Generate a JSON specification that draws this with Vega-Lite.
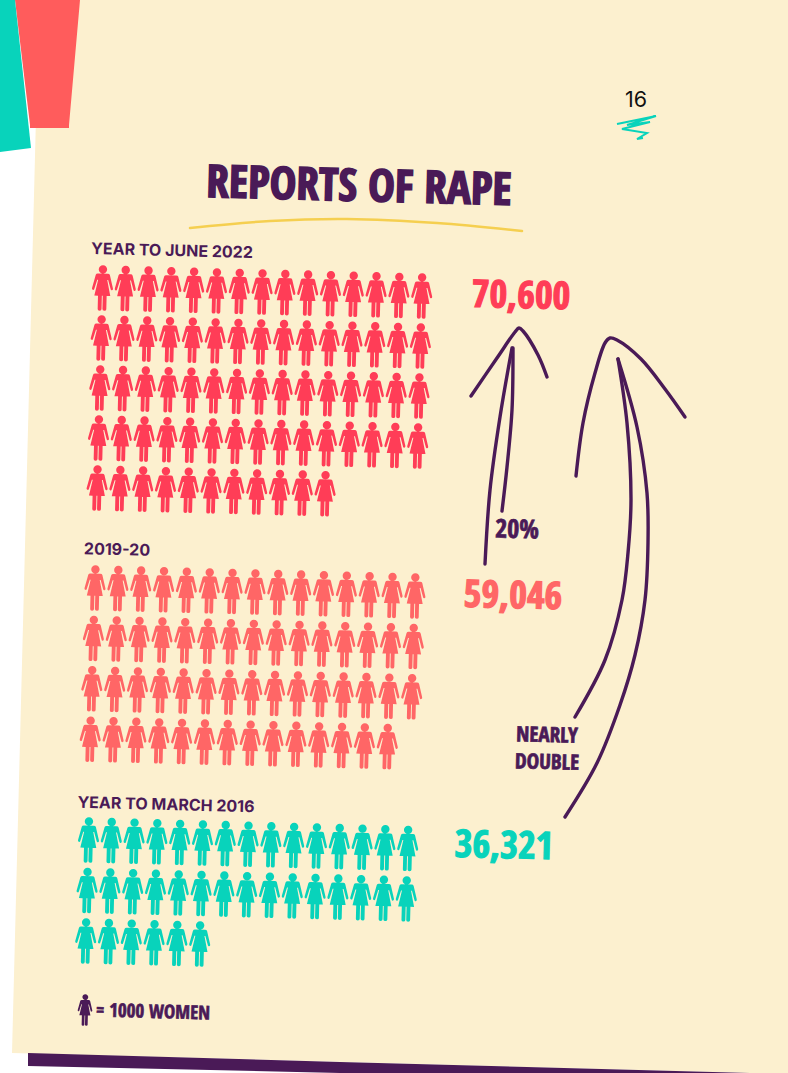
{
"$schema":"https://vega.github.io/schema/vega-lite/v6.json",
"width":788,"height":1073,"padding":0,
"autosize":{"type":"fit","contains":"padding"},
"background":"#ffffff",
"config":{"view":{"stroke":null}},
"datasets":{
"women":[
{"s":"2022","x":102.5,"y":288},{"s":"2022","x":125.3,"y":288.6},{"s":"2022","x":148.1,"y":289.1},{"s":"2022","x":170.9,"y":289.7},{"s":"2022","x":193.7,"y":290.3},{"s":"2022","x":216.5,"y":290.9},{"s":"2022","x":239.3,"y":291.4},{"s":"2022","x":262.1,"y":292},{"s":"2022","x":284.9,"y":292.6},{"s":"2022","x":307.7,"y":293.1},{"s":"2022","x":330.5,"y":293.7},{"s":"2022","x":353.3,"y":294.3},{"s":"2022","x":376.1,"y":294.8},{"s":"2022","x":398.9,"y":295.4},{"s":"2022","x":421.7,"y":296},
{"s":"2022","x":101.2,"y":338},{"s":"2022","x":124,"y":338.6},{"s":"2022","x":146.8,"y":339.1},{"s":"2022","x":169.6,"y":339.7},{"s":"2022","x":192.4,"y":340.3},{"s":"2022","x":215.2,"y":340.9},{"s":"2022","x":238,"y":341.4},{"s":"2022","x":260.8,"y":342},{"s":"2022","x":283.6,"y":342.6},{"s":"2022","x":306.4,"y":343.1},{"s":"2022","x":329.2,"y":343.7},{"s":"2022","x":352,"y":344.3},{"s":"2022","x":374.8,"y":344.8},{"s":"2022","x":397.6,"y":345.4},{"s":"2022","x":420.4,"y":346},
{"s":"2022","x":99.8,"y":388},{"s":"2022","x":122.6,"y":388.6},{"s":"2022","x":145.4,"y":389.1},{"s":"2022","x":168.2,"y":389.7},{"s":"2022","x":191,"y":390.3},{"s":"2022","x":213.8,"y":390.9},{"s":"2022","x":236.6,"y":391.4},{"s":"2022","x":259.4,"y":392},{"s":"2022","x":282.2,"y":392.6},{"s":"2022","x":305,"y":393.1},{"s":"2022","x":327.8,"y":393.7},{"s":"2022","x":350.6,"y":394.3},{"s":"2022","x":373.4,"y":394.8},{"s":"2022","x":396.2,"y":395.4},{"s":"2022","x":419,"y":396},
{"s":"2022","x":98.5,"y":438},{"s":"2022","x":121.3,"y":438.6},{"s":"2022","x":144.1,"y":439.1},{"s":"2022","x":166.9,"y":439.7},{"s":"2022","x":189.7,"y":440.3},{"s":"2022","x":212.5,"y":440.9},{"s":"2022","x":235.3,"y":441.4},{"s":"2022","x":258.1,"y":442},{"s":"2022","x":280.9,"y":442.6},{"s":"2022","x":303.7,"y":443.1},{"s":"2022","x":326.5,"y":443.7},{"s":"2022","x":349.3,"y":444.3},{"s":"2022","x":372.1,"y":444.8},{"s":"2022","x":394.9,"y":445.4},{"s":"2022","x":417.7,"y":446},
{"s":"2022","x":97.1,"y":488},{"s":"2022","x":119.9,"y":488.6},{"s":"2022","x":142.7,"y":489.1},{"s":"2022","x":165.5,"y":489.7},{"s":"2022","x":188.3,"y":490.3},{"s":"2022","x":211.1,"y":490.9},{"s":"2022","x":233.9,"y":491.4},{"s":"2022","x":256.7,"y":492},{"s":"2022","x":279.5,"y":492.6},{"s":"2022","x":302.3,"y":493.1},{"s":"2022","x":325.1,"y":493.7},
{"s":"2019","x":95,"y":588},{"s":"2019","x":117.9,"y":588.6},{"s":"2019","x":140.7,"y":589.1},{"s":"2019","x":163.6,"y":589.7},{"s":"2019","x":186.4,"y":590.3},{"s":"2019","x":209.3,"y":590.9},{"s":"2019","x":232.1,"y":591.4},{"s":"2019","x":255,"y":592},{"s":"2019","x":277.8,"y":592.6},{"s":"2019","x":300.7,"y":593.1},{"s":"2019","x":323.5,"y":593.7},{"s":"2019","x":346.4,"y":594.3},{"s":"2019","x":369.2,"y":594.8},{"s":"2019","x":392.1,"y":595.4},{"s":"2019","x":414.9,"y":596},
{"s":"2019","x":93.4,"y":638.4},{"s":"2019","x":116.3,"y":639},{"s":"2019","x":139.1,"y":639.5},{"s":"2019","x":162,"y":640.1},{"s":"2019","x":184.8,"y":640.7},{"s":"2019","x":207.7,"y":641.3},{"s":"2019","x":230.5,"y":641.8},{"s":"2019","x":253.4,"y":642.4},{"s":"2019","x":276.2,"y":643},{"s":"2019","x":299.1,"y":643.5},{"s":"2019","x":321.9,"y":644.1},{"s":"2019","x":344.8,"y":644.7},{"s":"2019","x":367.6,"y":645.2},{"s":"2019","x":390.5,"y":645.8},{"s":"2019","x":413.3,"y":646.4},
{"s":"2019","x":91.8,"y":688.8},{"s":"2019","x":114.7,"y":689.4},{"s":"2019","x":137.5,"y":689.9},{"s":"2019","x":160.4,"y":690.5},{"s":"2019","x":183.2,"y":691.1},{"s":"2019","x":206.1,"y":691.7},{"s":"2019","x":228.9,"y":692.2},{"s":"2019","x":251.8,"y":692.8},{"s":"2019","x":274.6,"y":693.4},{"s":"2019","x":297.5,"y":693.9},{"s":"2019","x":320.3,"y":694.5},{"s":"2019","x":343.2,"y":695.1},{"s":"2019","x":366,"y":695.6},{"s":"2019","x":388.9,"y":696.2},{"s":"2019","x":411.7,"y":696.8},
{"s":"2019","x":90.2,"y":739.2},{"s":"2019","x":113.1,"y":739.8},{"s":"2019","x":135.9,"y":740.3},{"s":"2019","x":158.8,"y":740.9},{"s":"2019","x":181.6,"y":741.5},{"s":"2019","x":204.5,"y":742.1},{"s":"2019","x":227.3,"y":742.6},{"s":"2019","x":250.2,"y":743.2},{"s":"2019","x":273,"y":743.8},{"s":"2019","x":295.9,"y":744.3},{"s":"2019","x":318.7,"y":744.9},{"s":"2019","x":341.6,"y":745.5},{"s":"2019","x":364.4,"y":746},{"s":"2019","x":387.3,"y":746.6},
{"s":"2016","x":88.5,"y":840},{"s":"2016","x":111.3,"y":840.6},{"s":"2016","x":134.1,"y":841.2},{"s":"2016","x":156.9,"y":841.8},{"s":"2016","x":179.7,"y":842.4},{"s":"2016","x":202.5,"y":843},{"s":"2016","x":225.3,"y":843.6},{"s":"2016","x":248.1,"y":844.2},{"s":"2016","x":270.9,"y":844.8},{"s":"2016","x":293.7,"y":845.4},{"s":"2016","x":316.5,"y":846},{"s":"2016","x":339.3,"y":846.6},{"s":"2016","x":362.1,"y":847.2},{"s":"2016","x":384.9,"y":847.8},{"s":"2016","x":407.7,"y":848.4},
{"s":"2016","x":87.1,"y":890.5},{"s":"2016","x":109.9,"y":891.1},{"s":"2016","x":132.7,"y":891.7},{"s":"2016","x":155.5,"y":892.3},{"s":"2016","x":178.3,"y":892.9},{"s":"2016","x":201.1,"y":893.5},{"s":"2016","x":223.9,"y":894.1},{"s":"2016","x":246.7,"y":894.7},{"s":"2016","x":269.5,"y":895.3},{"s":"2016","x":292.3,"y":895.9},{"s":"2016","x":315.1,"y":896.5},{"s":"2016","x":337.9,"y":897.1},{"s":"2016","x":360.7,"y":897.7},{"s":"2016","x":383.5,"y":898.3},{"s":"2016","x":406.3,"y":898.9},
{"s":"2016","x":85.7,"y":941},{"s":"2016","x":108.5,"y":941.6},{"s":"2016","x":131.3,"y":942.2},{"s":"2016","x":154.1,"y":942.8},{"s":"2016","x":176.9,"y":943.4},{"s":"2016","x":199.7,"y":944}
],
"arrows":[
{"id":"a1","i":0,"x":471,"y":396},{"id":"a1","i":1,"x":497,"y":358},{"id":"a1","i":2,"x":515,"y":332},{"id":"a1","i":3,"x":519,"y":328},{"id":"a1","i":4,"x":523,"y":331},{"id":"a1","i":5,"x":538,"y":355},{"id":"a1","i":6,"x":547,"y":377},
{"id":"a2","i":0,"x":485,"y":564},{"id":"a2","i":1,"x":490,"y":490},{"id":"a2","i":2,"x":500,"y":417},{"id":"a2","i":3,"x":512,"y":348},
{"id":"a3","i":0,"x":513,"y":348},{"id":"a3","i":1,"x":512,"y":410},{"id":"a3","i":2,"x":507,"y":467},{"id":"a3","i":3,"x":502,"y":511},
{"id":"b1","i":0,"x":576,"y":476},{"id":"b1","i":1,"x":583,"y":423},{"id":"b1","i":2,"x":595,"y":373},{"id":"b1","i":3,"x":605,"y":343},{"id":"b1","i":4,"x":610,"y":338},{"id":"b1","i":5,"x":617,"y":340},{"id":"b1","i":6,"x":641,"y":359},{"id":"b1","i":7,"x":665,"y":389},{"id":"b1","i":8,"x":685,"y":417},
{"id":"b2","i":0,"x":618,"y":359},{"id":"b2","i":1,"x":627,"y":423},{"id":"b2","i":2,"x":631,"y":500},{"id":"b2","i":3,"x":628,"y":553},{"id":"b2","i":4,"x":622,"y":600},{"id":"b2","i":5,"x":605,"y":660},{"id":"b2","i":6,"x":575,"y":717},
{"id":"b3","i":0,"x":618,"y":359},{"id":"b3","i":1,"x":637,"y":427},{"id":"b3","i":2,"x":647,"y":493},{"id":"b3","i":3,"x":648,"y":543},{"id":"b3","i":4,"x":645,"y":600},{"id":"b3","i":5,"x":635,"y":655},{"id":"b3","i":6,"x":620,"y":705},{"id":"b3","i":7,"x":597,"y":763},{"id":"b3","i":8,"x":565,"y":817}
],
"numbers":[
{"s":"2022","t":"70,600","x":521,"y":297},
{"s":"2019","t":"59,046","x":513,"y":597},
{"s":"2016","t":"36,321","x":504,"y":847}
],
"heads":[
{"t":"YEAR TO JUNE 2022","x":172,"y":251},
{"t":"2019-20","x":117,"y":550},
{"t":"YEAR TO MARCH 2016","x":166,"y":805}
]
},
"encoding":{
"x":{"field":"x","type":"quantitative","axis":null,"scale":{"domain":[0,788],"nice":false,"zero":false}},
"y":{"field":"y","type":"quantitative","axis":null,"scale":{"domain":[1073,0],"nice":false,"zero":false}}
},
"layer":[
{"data":{"values":[{"y":0,"x":39,"x2":788},{"y":1073,"x":11.5,"x2":788}]},
 "mark":{"type":"area","orient":"horizontal","color":"#FCF0CF"},
 "encoding":{"x2":{"field":"x2"}}},
{"data":{"values":[{"x":0,"y":1053,"y2":1073},{"x":12,"y":1053,"y2":1073},{"x":750,"y":1073,"y2":1073}]},
 "mark":{"type":"area","orient":"vertical","color":"#ffffff"},
 "encoding":{"y2":{"field":"y2"}}},
{"data":{"values":[{"x":28,"y":1053,"y2":1066},{"x":340,"y":1062,"y2":1073},{"x":750,"y":1073,"y2":1073}]},
 "mark":{"type":"area","orient":"vertical","color":"#4A1A57"},
 "encoding":{"y2":{"field":"y2"}}},
{"data":{"values":[{"y":0,"x":15,"x2":80},{"y":125,"x":30,"x2":69},{"y":128,"x":30,"x2":69}]},
 "mark":{"type":"area","orient":"horizontal","color":"#FF5C5C"},
 "encoding":{"x2":{"field":"x2"}}},
{"data":{"values":[{"y":0,"x":0,"x2":15},{"y":148,"x":0,"x2":31},{"y":152,"x":0,"x2":0}]},
 "mark":{"type":"area","orient":"horizontal","color":"#08D3BB"},
 "encoding":{"x2":{"field":"x2"}}},
{"data":{"values":[{"i":0,"x":190,"y":228},{"i":1,"x":270,"y":221},{"i":2,"x":347,"y":219},{"i":3,"x":437,"y":223},{"i":4,"x":522,"y":231}]},
 "mark":{"type":"line","interpolate":"catmull-rom","color":"#F5CF50","strokeWidth":2.5,"strokeCap":"round"},
 "encoding":{"order":{"field":"i"}}},
{"data":{"values":[{"i":0,"x":617,"y":124},{"i":1,"x":656,"y":116},{"i":2,"x":627,"y":125},{"i":3,"x":650,"y":122},{"i":4,"x":622,"y":129},{"i":5,"x":647,"y":133},{"i":6,"x":637,"y":139},{"i":7,"x":643,"y":138}]},
 "mark":{"type":"line","color":"#08D3BB","strokeWidth":2},
 "encoding":{"order":{"field":"i"}}},
{"data":{"name":"arrows"},
 "mark":{"type":"line","interpolate":"catmull-rom","color":"#4A1A57","strokeWidth":3.4,"strokeCap":"round"},
 "encoding":{"detail":{"field":"id"},"order":{"field":"i"}}},
{"data":{"name":"women"},
 "mark":{"type":"point","filled":true,"opacity":1,"angle":1.4,"size":2070,
  "shape":"M-0.22,-0.635L0.22,-0.635Q0.29,-0.635 0.31,-0.577L0.46,0.007Q0.475,0.066 0.42,0.09Q0.375,0.105 0.36,0.05L0.24,-0.36L0.2,-0.36L0.35,0.343L0.19,0.343L0.19,0.927Q0.19,1 0.105,1Q0.02,1 0.02,0.927L0.02,0.343L-0.02,0.343L-0.02,0.927Q-0.02,1 -0.105,1Q-0.19,1 -0.19,0.927L-0.19,0.343L-0.35,0.343L-0.2,-0.36L-0.24,-0.36L-0.36,0.05Q-0.375,0.105 -0.42,0.09Q-0.475,0.066 -0.46,0.007L-0.31,-0.577Q-0.29,-0.635 -0.22,-0.635ZM-0.185,-0.815A0.185,0.185 0 1 1 0.185,-0.815A0.185,0.185 0 1 1 -0.185,-0.815Z"},
 "encoding":{"color":{"field":"s","type":"nominal","legend":null,"scale":{"domain":["2022","2019","2016"],"range":["#FF3D57","#FF6666","#08D3BB"]}}}},
{"data":{"values":[{"x":85,"y":1010}]},
 "mark":{"type":"point","filled":true,"opacity":1,"angle":1.4,"size":1000,"color":"#4A1A57",
  "shape":"M-0.22,-0.635L0.22,-0.635Q0.29,-0.635 0.31,-0.577L0.46,0.007Q0.475,0.066 0.42,0.09Q0.375,0.105 0.36,0.05L0.24,-0.36L0.2,-0.36L0.35,0.343L0.19,0.343L0.19,0.927Q0.19,1 0.105,1Q0.02,1 0.02,0.927L0.02,0.343L-0.02,0.343L-0.02,0.927Q-0.02,1 -0.105,1Q-0.19,1 -0.19,0.927L-0.19,0.343L-0.35,0.343L-0.2,-0.36L-0.24,-0.36L-0.36,0.05Q-0.375,0.105 -0.42,0.09Q-0.475,0.066 -0.46,0.007L-0.31,-0.577Q-0.29,-0.635 -0.22,-0.635ZM-0.185,-0.815A0.185,0.185 0 1 1 0.185,-0.815A0.185,0.185 0 1 1 -0.185,-0.815Z"}},
{"data":{"values":[{"t":"REPORTS OF RAPE","x":359,"y":187}]},
 "mark":{"type":"text","font":"Open Sans Condensed","fontWeight":"bold","fontSize":45,"angle":1.5,"color":"#4A1A57","stroke":"#4A1A57","strokeWidth":1.6,"align":"center","baseline":"middle"},
 "encoding":{"text":{"field":"t"}}},
{"data":{"name":"numbers"},
 "mark":{"type":"text","font":"Open Sans Condensed","fontWeight":"bold","fontSize":38,"angle":1.5,"strokeWidth":1.2,"align":"center","baseline":"middle"},
 "encoding":{"text":{"field":"t"},"color":{"field":"s","type":"nominal","legend":null},"stroke":{"field":"s","type":"nominal","legend":null,"scale":{"domain":["2022","2019","2016"],"range":["#FF3D57","#FF6666","#08D3BB"]}}}},
{"data":{"name":"heads"},
 "mark":{"type":"text","font":"Inter","fontWeight":"bold","fontSize":16,"angle":1.5,"color":"#4A1A57","align":"center","baseline":"middle"},
 "encoding":{"text":{"field":"t"}}},
{"data":{"values":[{"t":"20%","x":517,"y":530}]},
 "mark":{"type":"text","font":"Open Sans Condensed","fontWeight":"bold","fontSize":26,"angle":1.5,"color":"#4A1A57","stroke":"#4A1A57","strokeWidth":0.7,"align":"center","baseline":"middle"},
 "encoding":{"text":{"field":"t"}}},
{"data":{"values":[{"t":"NEARLY","x":547,"y":736},{"t":"DOUBLE","x":547,"y":763}]},
 "mark":{"type":"text","font":"Open Sans Condensed","fontWeight":"bold","fontSize":21,"angle":1.5,"color":"#4A1A57","stroke":"#4A1A57","strokeWidth":0.7,"align":"center","baseline":"middle"},
 "encoding":{"text":{"field":"t"}}},
{"data":{"values":[{"t":"= 1000 WOMEN","x":153,"y":1012}]},
 "mark":{"type":"text","font":"Open Sans Condensed","fontWeight":"bold","fontSize":19,"angle":1.5,"color":"#4A1A57","stroke":"#4A1A57","strokeWidth":0.6,"align":"center","baseline":"middle"},
 "encoding":{"text":{"field":"t"}}},
{"data":{"values":[{"t":"16","x":636,"y":100.5}]},
 "mark":{"type":"text","font":"Inter","fontSize":21.5,"color":"#111111","align":"center","baseline":"middle"},
 "encoding":{"text":{"field":"t"}}}
]
}
